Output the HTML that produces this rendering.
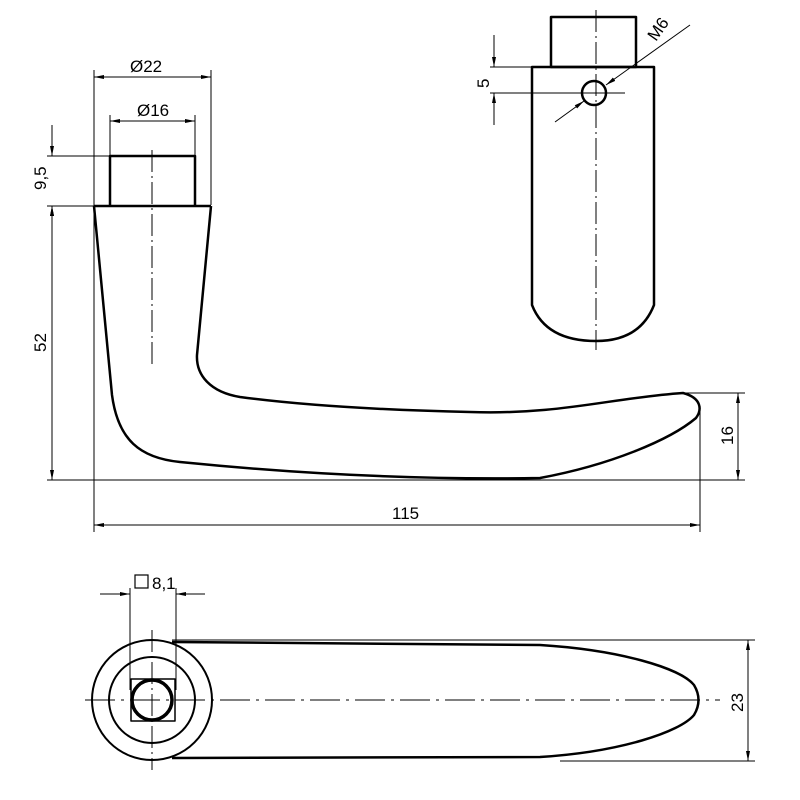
<!DOCTYPE html>
<html><head><meta charset="utf-8"><style>html,body{margin:0;padding:0;background:#fff}svg{display:block}</style></head>
<body>
<svg width="800" height="800" viewBox="0 0 800 800" xmlns="http://www.w3.org/2000/svg" font-family="Liberation Sans, sans-serif">
<defs>
<marker id="a" viewBox="0 0 10 6" refX="10" refY="3" markerWidth="10" markerHeight="6" orient="auto-start-reverse" markerUnits="userSpaceOnUse"><path d="M0,1 L10,3 L0,5z" fill="#000"/></marker>
</defs>
<g stroke="#000" fill="none">
<g stroke-width="1">
<line x1="94" y1="70" x2="94" y2="532"/>
<line x1="211" y1="70" x2="211" y2="205"/>
<line x1="110" y1="115" x2="110" y2="156"/>
<line x1="195" y1="115" x2="195" y2="156"/>
<line x1="94" y1="77" x2="211" y2="77" marker-start="url(#a)" marker-end="url(#a)"/>
<line x1="110" y1="121" x2="195" y2="121" marker-start="url(#a)" marker-end="url(#a)"/>
<line x1="47" y1="156" x2="110" y2="156"/>
<line x1="47" y1="206" x2="94" y2="206"/>
<line x1="47" y1="480" x2="700" y2="480"/>
<line x1="52" y1="125" x2="52" y2="156" marker-end="url(#a)"/>
<line x1="52" y1="236" x2="52" y2="206" marker-end="url(#a)"/>
<line x1="52" y1="206" x2="52" y2="480" marker-start="url(#a)" marker-end="url(#a)"/>
<line x1="700" y1="410" x2="700" y2="532"/>
<line x1="94" y1="525" x2="700" y2="525" marker-start="url(#a)" marker-end="url(#a)"/>
<line x1="683" y1="393" x2="745" y2="393"/>
<line x1="700" y1="480" x2="745" y2="480"/>
<line x1="738" y1="393" x2="738" y2="480" marker-start="url(#a)" marker-end="url(#a)"/>
<line x1="152" y1="150" x2="152" y2="365" stroke-dasharray="22,4,2,4"/>
<line x1="596" y1="10" x2="596" y2="350" stroke-dasharray="22,4,2,4"/>
<line x1="510" y1="93" x2="625" y2="93"/>
<line x1="490" y1="67" x2="532" y2="67"/>
<line x1="490" y1="93" x2="532" y2="93"/>
<line x1="494" y1="35" x2="494" y2="67" marker-end="url(#a)"/>
<line x1="494" y1="125" x2="494" y2="93" marker-end="url(#a)"/>
<line x1="555" y1="122" x2="584" y2="101" marker-end="url(#a)"/>
<line x1="690" y1="25" x2="606" y2="85" marker-end="url(#a)"/>
<line x1="85" y1="700" x2="720" y2="700" stroke-dasharray="30,6,3,6"/>
<line x1="152" y1="630" x2="152" y2="770" stroke-dasharray="22,4,2,4"/>
<line x1="130" y1="588" x2="130" y2="690"/>
<line x1="176" y1="588" x2="176" y2="690"/>
<line x1="100" y1="594" x2="130" y2="594" marker-end="url(#a)"/>
<line x1="205" y1="594" x2="176" y2="594" marker-end="url(#a)"/>
<line x1="172" y1="640" x2="755" y2="640"/>
<line x1="560" y1="761" x2="755" y2="761"/>
<line x1="748" y1="640" x2="748" y2="761" marker-start="url(#a)" marker-end="url(#a)"/>
</g>
<g stroke-width="2.5" stroke-linejoin="round">
<path d="M110,206 V156 H195 V206"/>
<line x1="94" y1="206" x2="211" y2="206"/>
<path d="M94,206 L112,395 C118,440 140,458 180,462 C300,474 420,480 540,478 C610,465 670,440 696,418 C702,410 702,398 683,393 C610,398 560,415 470,412 C380,410 300,405 240,397 C210,392 196,375 197,355 L211,206"/>
<rect x="551" y="17" width="85" height="50"/>
<path d="M532,67 H654 V305 Q640,341 596,341 Q546,341 532,305 Z"/>
<circle cx="594" cy="93" r="12"/>
<circle cx="152" cy="700" r="60" stroke-width="2"/>
<circle cx="152" cy="700" r="43" stroke-width="2"/>
<rect x="131" y="679" width="44" height="42" stroke-width="1.5"/>
<circle cx="152" cy="700" r="20" stroke-width="3.5"/>
<path d="M172,642 L540,645 C620,650 680,668 694,685 Q703,700 694,715 C680,732 620,752 540,757 L172,758"/>
</g>
</g>
<g font-size="17" fill="#000">
<text x="130" y="72">Ø22</text>
<text x="137" y="116">Ø16</text>
<text x="392" y="519">115</text>
<text transform="translate(46,190) rotate(-90)">9,5</text>
<text transform="translate(46,352) rotate(-90)">52</text>
<text transform="translate(733,445) rotate(-90)">16</text>
<text transform="translate(489,88) rotate(-90)">5</text>
<text transform="translate(656,42) rotate(-55)">M6</text>
<text transform="translate(743,712) rotate(-90)">23</text>
<rect x="135" y="575" width="13" height="13" fill="none" stroke="#000" stroke-width="1.2"/>
<text x="152" y="589">8,1</text>
</g>
</svg>
</body></html>
